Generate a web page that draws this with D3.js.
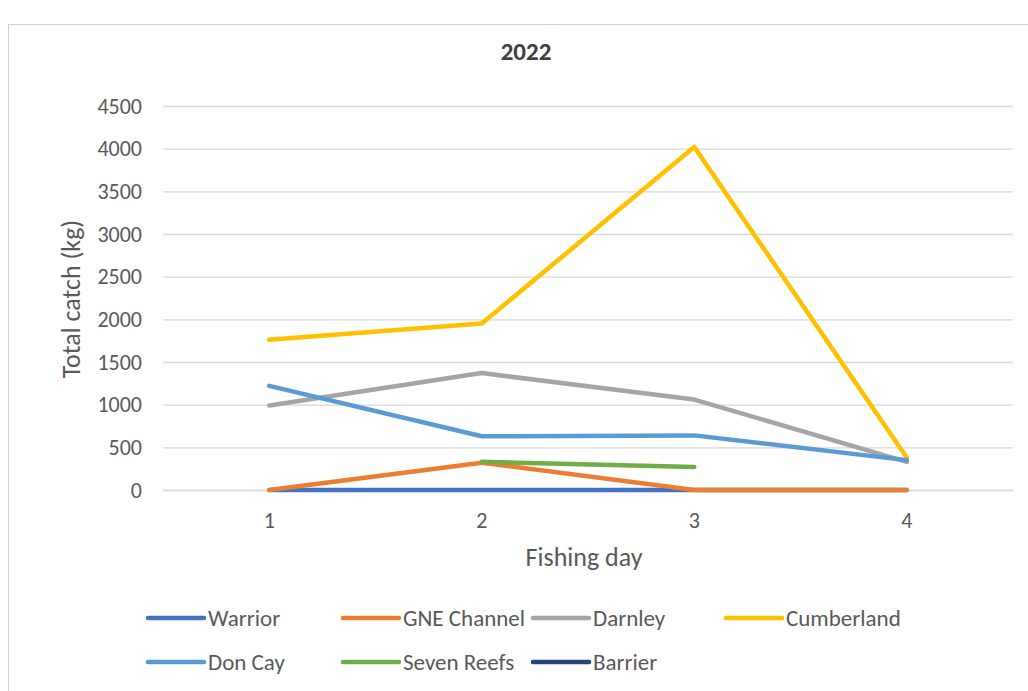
<!DOCTYPE html>
<html><head><meta charset="utf-8">
<script src="https://cdn.jsdelivr.net/npm/d3@7"></script>
<style>
body{margin:0;background:#fff;}
text{font-family:Carlito,Lato,"Open Sans",sans-serif;}
</style></head>
<body><svg id="c" width="1028" height="691"></svg>
<script>
const days = ["1","2","3","4"];
const yTicks = [0,500,1000,1500,2000,2500,3000,3500,4000,4500];
const seriesNames = ["Warrior","GNE Channel","Darnley","Cumberland","Don Cay","Seven Reefs","Barrier"];
const seriesColors = ["#4472C4","#ED7D31","#A5A5A5","#FFC000","#5B9BD5","#70AD47","#264478"];
const warrior = [0,0,0,0];
const gneChannel = [0,320,0,0];
const darnley = [990,1370,1060,330];
const cumberland = [1760,1950,4020,380];
const donCay = [1220,630,640,350];
const sevenReefs = [null,330,270,null];
const barrier = [null,null,null,null];
const seriesValues = [warrior,gneChannel,darnley,cumberland,donCay,sevenReefs,barrier];

(function(){
const svg = d3.select("#c");
svg.append("rect").attr("x",8.5).attr("y",24.5).attr("width",1030).attr("height",680)
  .attr("fill","#fff").attr("stroke","#d0d0d0").attr("stroke-width",1);

const pl=163, pr=1013, pt=106, pb=490;
const x = d3.scaleBand().domain(days).range([pl,pr]);
const y = d3.scaleLinear().domain([0,4500]).range([pb,pt]);

svg.append("g").selectAll("line").data(yTicks).join("line")
  .attr("x1",pl).attr("x2",pr)
  .attr("y1",d=>y(d)+0.5).attr("y2",d=>y(d)+0.5)
  .attr("stroke","#d9d9d9").attr("stroke-width",1.3);

const yAxis = svg.append("g").attr("transform",`translate(${pl},0)`)
  .call(d3.axisLeft(y).tickValues(yTicks).tickFormat(d3.format("d")).tickSize(0).tickPadding(21));
yAxis.select(".domain").remove();
yAxis.selectAll("text").attr("font-size",22).attr("fill","#595959");

const xAxis = svg.append("g").attr("transform",`translate(0,${pb})`)
  .call(d3.axisBottom(x).tickSize(0).tickPadding(22));
xAxis.select(".domain").attr("stroke","#d9d9d9").attr("stroke-width",1.3);
xAxis.selectAll("text").attr("font-size",22).attr("fill","#595959");

svg.append("text").attr("x",526).attr("y",60).attr("text-anchor","middle")
  .attr("font-size",25).attr("font-weight","bold").attr("fill","#404040").text("2022");
svg.append("text").attr("transform",`translate(80,299) rotate(-90)`)
  .attr("text-anchor","middle").attr("font-size",26).attr("fill","#595959").text("Total catch (kg)");
svg.append("text").attr("x",584).attr("y",566).attr("text-anchor","middle")
  .attr("font-size",26).attr("fill","#595959").text("Fishing day");

const line = d3.line().defined(d=>d.v!=null)
  .x(d=>x(d.day)+x.bandwidth()/2).y(d=>y(d.v));
seriesNames.forEach((name,i)=>{
  const data = days.map((d,j)=>({day:d,v:seriesValues[i][j]}));
  svg.append("path").datum(data).attr("d",line).attr("fill","none")
    .attr("stroke",seriesColors[i]).attr("stroke-width",4.5)
    .attr("stroke-linejoin","round").attr("stroke-linecap","round");
});

const legendPos = [[148,618],[343,618],[533,618],[726,618],[148,662],[343,662],[533,662]];
seriesNames.forEach((name,i)=>{
  const [lx,ly]=legendPos[i];
  const g = svg.append("g");
  g.append("line").attr("x1",lx).attr("x2",lx+56).attr("y1",ly).attr("y2",ly)
    .attr("stroke",seriesColors[i]).attr("stroke-width",4.5).attr("stroke-linecap","round");
  g.append("text").attr("x",lx+60).attr("y",ly+8).attr("font-size",23).attr("fill","#595959").text(name);
});
})();
</script></body></html>
